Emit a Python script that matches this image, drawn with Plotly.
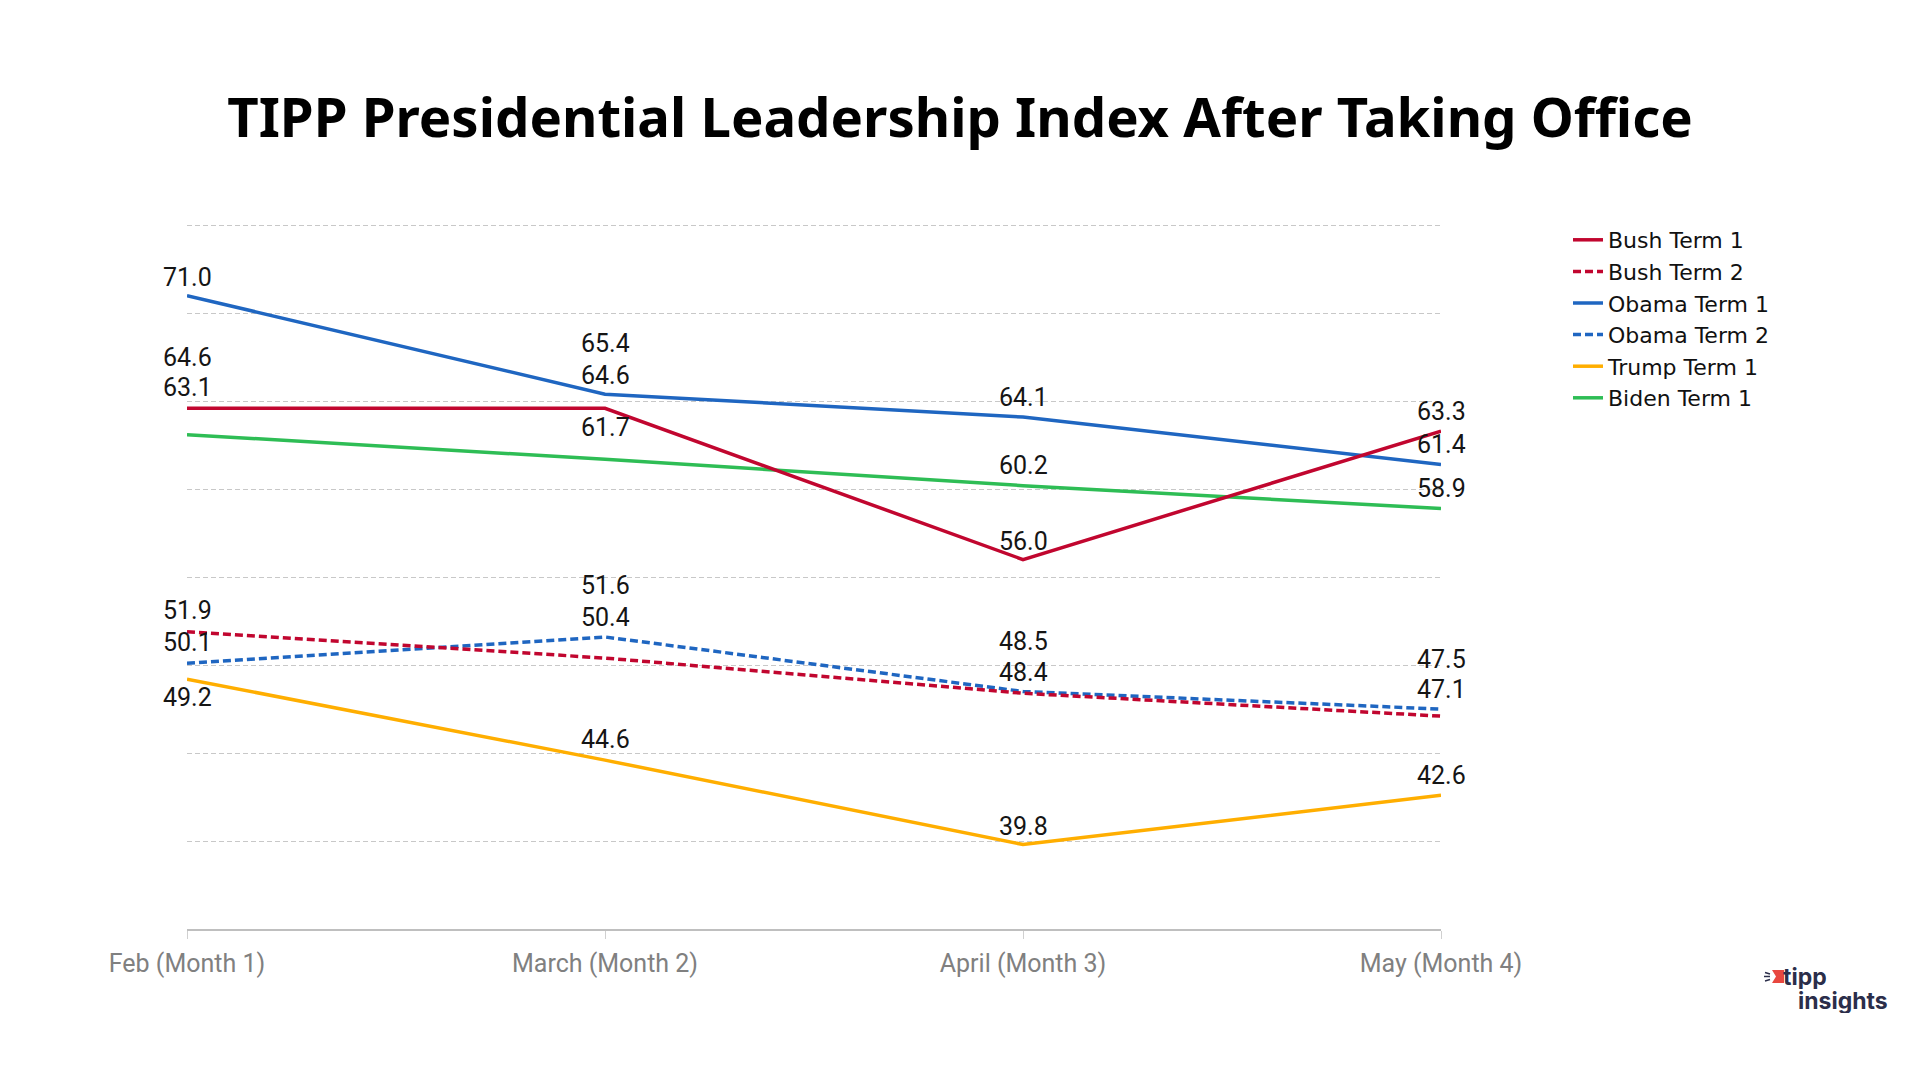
import plotly.graph_objects as go

# ---- data ----
months = ["Feb (Month 1)", "March (Month 2)", "April (Month 3)", "May (Month 4)"]
bush_term1 = [64.6, 64.6, 56.0, 63.3]
bush_term2 = [51.9, 50.4, 48.4, 47.1]
obama_term1 = [71.0, 65.4, 64.1, 61.4]
obama_term2 = [50.1, 51.6, 48.5, 47.5]
trump_term1 = [49.2, 44.6, 39.8, 42.6]
biden_term1 = [63.1, 61.7, 60.2, 58.9]
y_ticks = [35, 40, 45, 50, 55, 60, 65, 70, 75]

# ---- styling ----
RED = "#C1062F"
BLUE = "#1F66C1"
ORANGE = "#FFAE00"
GREEN = "#2EBD55"
LABEL_FONT = "Roboto"

series = [
    # name, values, color, dash, legend rank, label shift (px, up)
    ("Biden Term 1", biden_term1, GREEN, "solid", 6, [47, 32, 20, 20]),
    ("Trump Term 1", trump_term1, ORANGE, "solid", 5, [-18, 21, 18, 20]),
    ("Obama Term 2", obama_term2, BLUE, "8px,4px", 4, [21, 51, 50, 50]),
    ("Bush Term 2", bush_term2, RED, "8px,4px", 2, [21, 41, 21, 27]),
    ("Obama Term 1", obama_term1, BLUE, "solid", 3, [18, 51, 20, 20]),
    ("Bush Term 1", bush_term1, RED, "solid", 1, [51, 33, 18, 20]),
]

W, H = 1920, 1080
OFF = 8  # page body margin offset
Y_MIN, Y_MAX, Y_TOP_PAD = 35, 75, 0.3
PX_PER_UNIT = (929 - 225) / (Y_MAX - Y_MIN)
L = 187 - OFF
T = 225 - OFF - Y_TOP_PAD * PX_PER_UNIT
R, B = W - (1441 - OFF), H - (929 - OFF)

fig = go.Figure()
annotations = []
for name, vals, color, dash, rank, shifts in series:
    fig.add_trace(go.Scatter(
        x=months, y=vals, name=name, mode="lines",
        line=dict(color=color, width=3.5, dash=dash),
        legendrank=rank, hoverinfo="x+y+name",
    ))
    for m, v, s in zip(months, vals, shifts):
        annotations.append(dict(
            x=m, y=v, xref="x", yref="y", text=f"{v:.1f}", showarrow=False,
            yshift=s, height=27, borderpad=0,
            font=dict(family=LABEL_FONT, size=25, color="#151515"),
        ))

pw, ph = W - L - R, H - T - B
def px(xp):
    return (xp - L) / pw
def py(yp):
    return (H - B - yp) / ph

# logo text
annotations.append(dict(xref="paper", yref="paper", x=px(1774), y=py(969), xanchor="left",
                        yanchor="middle", text="<b>tipp</b>", showarrow=False, height=24,
                        borderpad=0, font=dict(family="Inter", size=23, color="#2B2E4A")))
annotations.append(dict(xref="paper", yref="paper", x=px(1789), y=py(993), xanchor="left",
                        yanchor="middle", text="<b>insights</b>", showarrow=False, height=24,
                        borderpad=0, font=dict(family="Inter", size=23, color="#2B2E4A")))

shapes = [
    dict(type="path", xref="paper", yref="paper",
         path=f"M {px(1764)},{py(962)} L {px(1776)},{py(962)} L {px(1776)},{py(975)} "
              f"L {px(1764)},{py(975)} L {px(1768)},{py(968.5)} Z",
         fillcolor="#E8473F", line=dict(width=0)),
]
for (x0, y0, x1, y1) in [(1757, 964.5, 1762, 966), (1756, 968.5, 1762, 968.5), (1757, 973, 1762, 971.5)]:
    shapes.append(dict(type="line", xref="paper", yref="paper",
                       x0=px(x0), y0=py(y0), x1=px(x1), y1=py(y1),
                       line=dict(color="#2B2E4A", width=1.5)))

fig.update_layout(
    width=W, height=H,
    margin=dict(l=L, r=R, t=T, b=B, autoexpand=False),
    paper_bgcolor="white", plot_bgcolor="white",
    title=dict(text="<b>TIPP Presidential Leadership Index After Taking Office</b>",
               x=(960 - OFF) / W, xref="container", xanchor="center",
               y=1 - 110 / H, yref="container", yanchor="middle",
               font=dict(family="Noto Sans", size=54.5, color="#000000")),
    xaxis=dict(type="category", categoryorder="array", categoryarray=months,
               range=[0, 3], showgrid=False, zeroline=False,
               showline=True, linecolor="#BFBFBF", linewidth=2,
               ticks="outside", ticklen=8, tickcolor="#D0D0D0", tickwidth=1,
               ticklabelstandoff=3,
               tickfont=dict(family=LABEL_FONT, size=25, color="#808080"),
               fixedrange=True),
    yaxis=dict(range=[Y_MIN, Y_MAX + Y_TOP_PAD], tickvals=y_ticks, showticklabels=False,
               showgrid=True, gridcolor="#C8C8C8", gridwidth=1, griddash="5px,3px",
               zeroline=False, showline=False, fixedrange=True),
    legend=dict(xref="container", yref="container", x=1560 / W, y=1 - 211 / H,
                xanchor="left", yanchor="top", traceorder="normal",
                font=dict(family="DejaVu Sans", size=22, color="#111111"),
                tracegroupgap=0, itemwidth=30, bgcolor="rgba(0,0,0,0)"),
    annotations=annotations,
    shapes=shapes,
    showlegend=True,
)

fig.write_html("out.html")
